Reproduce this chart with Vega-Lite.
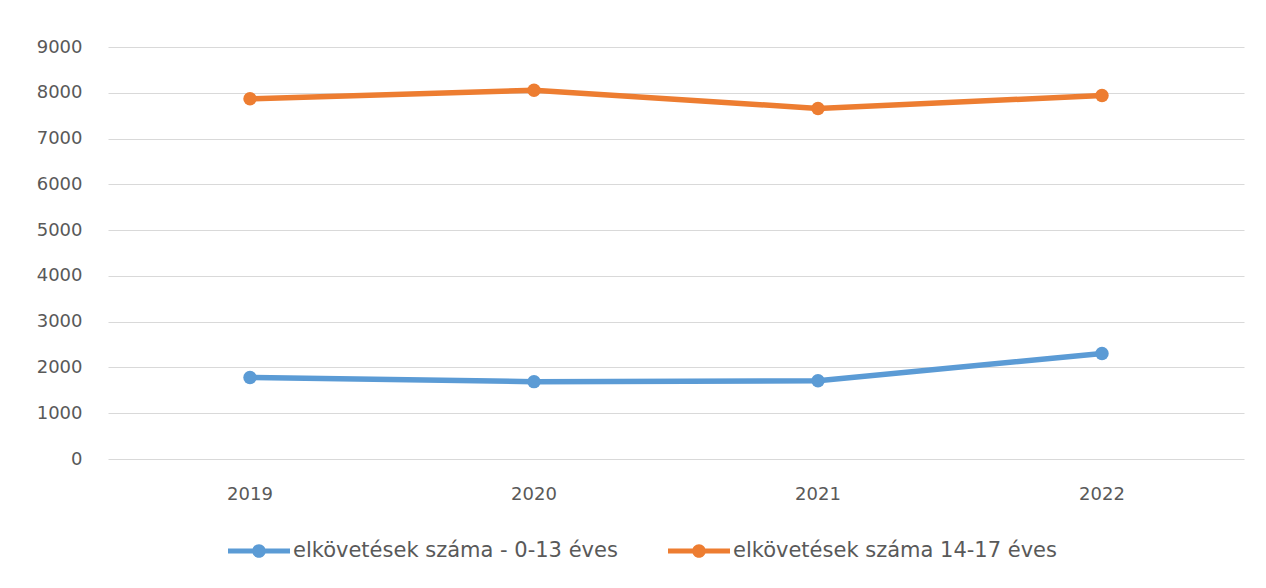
{
  "$schema": "https://vega.github.io/schema/vega-lite/v6.json",
  "autosize": {"type": "none"},
  "padding": {"left": 108, "top": 47, "right": 22, "bottom": 129},
  "width": 1136,
  "height": 412,
  "background": "white",
  "config": {
    "view": {"stroke": null},
    "font": "DejaVu Sans",
    "axis": {"labelColor": "#595959", "labelFontSize": 18, "grid": false, "ticks": false, "domain": false, "title": null},
    "legend": {"labelColor": "#595959", "labelFontSize": 21}
  },
  "data": {
    "values": [
      {"year": "2019", "series": "elkövetések száma - 0-13 éves", "value": 1782},
      {"year": "2020", "series": "elkövetések száma - 0-13 éves", "value": 1690},
      {"year": "2021", "series": "elkövetések száma - 0-13 éves", "value": 1710},
      {"year": "2022", "series": "elkövetések száma - 0-13 éves", "value": 2306},
      {"year": "2019", "series": "elkövetések száma 14-17 éves", "value": 7868},
      {"year": "2020", "series": "elkövetések száma 14-17 éves", "value": 8057},
      {"year": "2021", "series": "elkövetések száma 14-17 éves", "value": 7657},
      {"year": "2022", "series": "elkövetések száma 14-17 éves", "value": 7940}
    ]
  },
  "encoding": {
    "x": {"field": "year", "type": "ordinal", "scale": {"type": "band", "paddingInner": 0, "paddingOuter": 0},
          "axis": {"labelAngle": 0, "labelPadding": 26, "grid": false}},
    "y": {"field": "value", "type": "quantitative", "scale": {"domain": [0, 9000], "nice": false},
          "axis": {"values": [0,1000,2000,3000,4000,5000,6000,7000,8000,9000], "format": "d", "grid": true, "gridColor": "#d9d9d9", "gridWidth": 1.2, "labelPadding": 26}},
    "color": {"field": "series", "type": "nominal",
      "scale": {"domain": ["elkövetések száma - 0-13 éves", "elkövetések száma 14-17 éves"], "range": ["#5B9BD5", "#ED7D31"]},
      "legend": {"orient": "none", "legendX": 120, "legendY": 473, "title": null, "direction": "horizontal", "labelLimit": 0,
        "symbolType": "M-1,-0.08 H1 V0.08 H-1 Z M-0.22,0 A0.22,0.22 0 1,1 0.22,0 A0.22,0.22 0 1,1 -0.22,0 Z",
        "symbolSize": 3844, "symbolStrokeWidth": 0, "labelOffset": 3, "columnPadding": 50,
        "encode": {"symbols": {"update": {"fill": {"scale": "color", "field": "value"}, "fillOpacity": {"value": 1}}}}}
    }
  },
  "layer": [
    {"mark": {"type": "line", "strokeWidth": 5.5, "strokeCap": "round"}},
    {"mark": {"type": "point", "filled": true, "size": 180, "opacity": 1}}
  ]
}
